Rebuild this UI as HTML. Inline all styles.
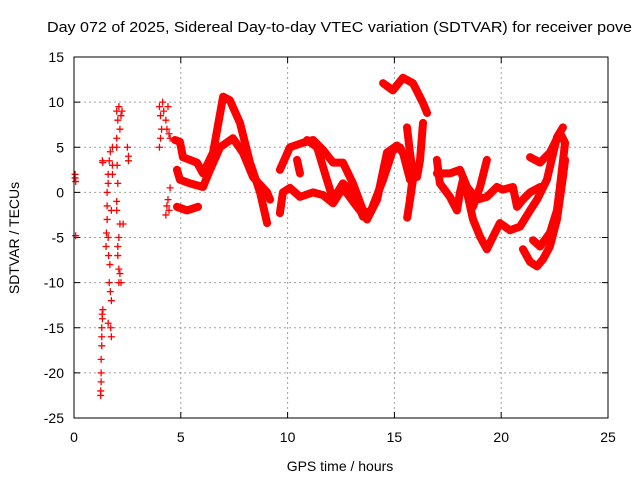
<!DOCTYPE html>
<html><head><meta charset="utf-8"><style>
body{margin:0;background:#fff}
svg{display:block;font-family:"Liberation Sans",sans-serif}
</style></head><body>
<svg id="chart" width="640" height="480" viewBox="0 0 640 480">
<text x="47" y="32" font-size="15" textLength="585" lengthAdjust="spacingAndGlyphs">Day 072 of 2025, Sidereal Day-to-day VTEC variation (SDTVAR) for receiver pove</text>
<text x="340" y="471" font-size="14" text-anchor="middle">GPS time / hours</text>
<text transform="translate(19,238) rotate(-90)" font-size="14" text-anchor="middle">SDTVAR / TECUs</text>
<g id="grid"></g>
<g id="ticks"></g>
<g id="marks"></g>
<rect x="74" y="57" width="534" height="361" fill="none" stroke="#000" stroke-width="1"/>
</svg>
<script>
const xTicks=[0,5,10,15,20,25];
const yTicks=[15,10,5,0,-5,-10,-15,-20,-25];
// sparse early scatter [hour, value]
const scatterPts=[[0.05,2],[0.05,1.6],[0.08,1.2],[0.08,-4.8],
[1.25,-22.5],[1.25,-22],[1.27,-21],[1.27,-20],[1.27,-18.5],[1.3,-17],[1.3,-16],[1.3,-15],[1.33,-14],[1.35,-13],[1.32,-13.5],[1.35,3.3],[1.33,3.5],
[1.5,-6],[1.52,-4.5],[1.55,-3],[1.55,-1.5],[1.55,0],[1.6,1],[1.6,2],[1.65,3.5],[1.7,4.5],[1.7,-11],[1.72,-15],[1.75,-16],[1.6,-14.5],[1.65,-10],[1.68,-8],[1.75,-12],[1.8,5],[1.8,3],[1.8,2],[1.75,-2],[1.6,-5],[1.62,-7],
[2.0,9],[2.05,8],[2.1,9.5],[2.15,7],[2.0,6],[2.0,5],[2.02,3],[2.05,1],[2.0,-1],[2.0,-2],[2.1,-5],[2.05,-6],[2.05,-7],[2.1,-8.5],[2.1,-10],[2.2,-10],[2.15,-3.5],[2.2,8.5],[2.25,9],[2.15,-9],
[2.5,5],[2.55,4],[2.55,3.5],[2.3,-3.5],
[4.0,9.5],[4.05,8.5],[4.1,7],[4.15,10],[4.2,9],[4.0,5],[4.05,6],[4.3,8],[4.35,7],[4.4,9.5],[4.45,6.5],[4.5,6],[4.3,-2.5],[4.35,-1.5],[4.4,-0.8],[4.5,0.5],[4.45,-2]];
// continuous traces [hour, value]
const trace1=[[4.73,5.8],[4.96,5.6],[5.10,3.9],[5.76,3.3],[6.04,2.1],[6.51,4.4],[6.98,10.6],[7.30,10.2],[7.77,7.7],[8.24,3.3],[8.71,0],[9.04,-3.4]];
const trace2=[[4.82,2.5],[4.96,1.4],[5.43,1],[6.04,0.6],[6.37,2.5],[6.84,5],[7.44,6],[7.91,4.4],[8.38,1.7],[9.04,0],[9.18,-0.8]];
const trace3=[[4.82,-1.6],[5.29,-2],[5.81,-1.6]];
const trace4=[[9.64,-2.3],[9.78,0],[10.11,0.5],[10.58,-0.5],[11.19,0],[11.66,-0.3],[12.13,-1.2],[12.59,0.5],[13.25,-1.6],[13.72,-3],[14.19,-0.8],[14.65,4.4],[15.12,5.2],[15.40,4.4],[15.73,1.4],[15.73,3.6],[15.87,1.4],[15.73,-0.8]];
const trace5=[[9.64,2.5],[10.11,5],[10.72,5.5],[11.19,5.8],[11.66,4.7],[12.13,3.3],[12.59,3.3],[13.06,1],[13.53,-2],[13.86,-2.3],[14.47,1.4],[14.93,4.7],[15.26,5],[15.73,2.8],[16.06,2.1]];
const trace6=[[10.44,3.6],[10.58,2.1]];
const trace7=[[10.91,5.8],[11.38,5],[11.84,1.4],[12.13,-0.8],[12.59,1],[13.06,0],[13.53,-2.7]];
const trace8=[[14.47,12.1],[14.93,11.3],[15.40,12.7],[15.87,12.1],[16.34,9.9],[16.53,8.8]];
const trace9=[[15.59,7.2],[15.73,4.4],[15.87,2],[15.73,-0.8],[15.6,-2.8]];
const trace10=[[16.34,7.7],[16.20,3.6],[16.06,1.7]];
const trace11=[[16.99,3.6],[17.13,1],[17.60,-0.5],[17.93,-2],[18.07,0],[18.21,1.4],[18.68,-1.6],[19.01,0.6],[19.33,3.6]];
const trace12=[[16.99,2.1],[17.60,2.1],[18.07,2.5],[18.40,0.6],[18.87,-0.8],[19.33,-0.5],[19.80,0.6],[20.08,0.3],[20.55,0.6],[20.74,-1.6],[21.02,-0.8],[21.35,0],[21.82,0.6]];
const trace13=[[18.40,0],[18.68,-3],[19.01,-4.9],[19.33,-6.3],[19.62,-4.9],[19.94,-3.4],[20.41,-4.2],[20.88,-3.8],[21.35,-2],[21.68,-0.8],[22.14,1.4],[22.61,6.1],[22.89,7.2]];
const trace14=[[21.35,3.9],[21.82,3.3],[22.28,4.4],[22.75,6.6],[22.99,5.5],[22.75,0.6],[22.61,-2],[22.28,-4.5],[21.82,-6],[21.49,-5.3]];
const trace15=[[21.02,-6.3],[21.35,-7.7],[21.68,-8.2],[21.96,-7.4],[22.28,-6],[22.61,-3],[22.89,1.7],[22.99,3.6]];
const traces=[trace1,trace2,trace3,trace4,trace5,trace6,trace7,trace8,trace9,trace10,trace11,trace12,trace13,trace14,trace15];

const X0=74,X1=608,Y0=418,Y1=57;
const xs=h=>X0+(h-0)/25*(X1-X0);
const ys=v=>Y0-(v+25)/40*(Y0-Y1);
const NS="http://www.w3.org/2000/svg";
function mk(tag,attrs,parent){const e=document.createElementNS(NS,tag);for(const k in attrs)e.setAttribute(k,attrs[k]);parent.appendChild(e);return e;}
const grid=document.getElementById('grid'),ticks=document.getElementById('ticks'),marks=document.getElementById('marks');
xTicks.forEach(t=>{const x=xs(t);
 if(t>0&&t<25){const l=mk('line',{x1:x,x2:x,y1:Y1,y2:Y0,stroke:'#a0a0a0','stroke-dasharray':'2,3'},grid);
 
 }
 mk('line',{x1:x,x2:x,y1:Y0,y2:Y0-6,stroke:'#000'},ticks);
 mk('line',{x1:x,x2:x,y1:Y1,y2:Y1+6,stroke:'#000'},ticks);
 const tx=mk('text',{x:x,y:Y0+24,'font-size':14,'text-anchor':'middle'},ticks);tx.textContent=t;
 
 });
yTicks.forEach(t=>{const y=ys(t);
 if(t>-25&&t<15){const l=mk('line',{x1:X0,x2:X1,y1:y,y2:y,stroke:'#a0a0a0','stroke-dasharray':'2,3'},grid);
 
 }
 mk('line',{x1:X0,x2:X0+6,y1:y,y2:y,stroke:'#000'},ticks);
 mk('line',{x1:X1,x2:X1-6,y1:y,y2:y,stroke:'#000'},ticks);
 const tx=mk('text',{x:X0-10,y:y+5,'font-size':14,'text-anchor':'end'},ticks);tx.textContent=t;
 
 });
function plus(h,v,name){const x=xs(h),y=ys(v);
 const p=mk('path',{d:`M${x-3.5},${y}H${x+3.5}M${x},${y-3.5}V${y+3.5}`,stroke:'#f00','stroke-width':1.3,fill:'none'},marks);
 
 }
scatterPts.forEach(p=>plus(p[0],p[1],'scatter-point'));
traces.forEach((tr,i)=>{
 const pl=mk('polyline',{points:tr.map(p=>xs(p[0])+','+ys(p[1])).join(' '),stroke:'#f00','stroke-width':8,fill:'none','stroke-linejoin':'round','stroke-linecap':'round'},marks);
 
 
 tr.forEach(p=>plus(p[0],p[1],'trace-point'));
});
</script>
</body></html>
